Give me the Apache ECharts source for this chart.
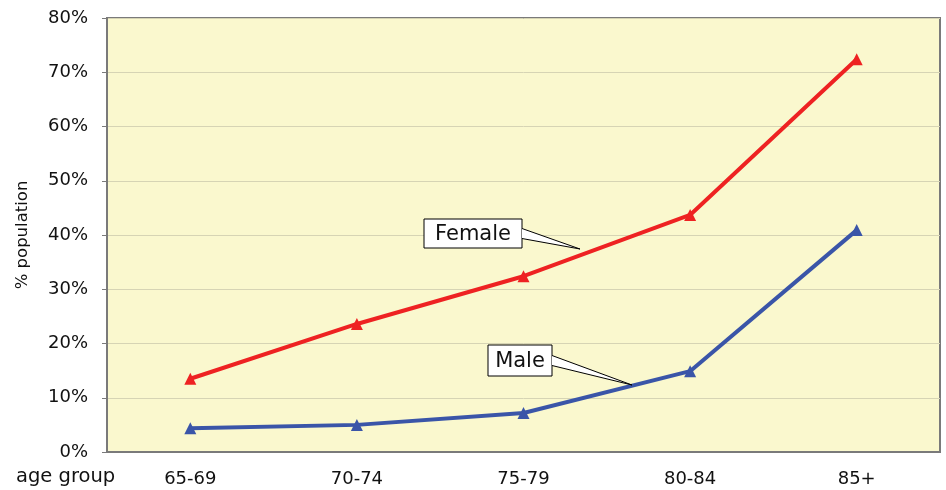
<!DOCTYPE html>
<html>
<head>
<meta charset="utf-8">
<script src="https://cdn.jsdelivr.net/npm/echarts@6/dist/echarts.min.js"></script>
<style>
  html, body { margin: 0; padding: 0; background: #fff; }
  #main { width: 946px; height: 490px; }
</style>
</head>
<body>
<div id="main"></div>
<script>
const ageGroups = ['65-69', '70-74', '75-79', '80-84', '85+'];
const female = [13.5, 23.6, 32.4, 43.7, 72.4];
const male = [4.4, 5.0, 7.2, 14.9, 40.9];
const yTicks = [0, 10, 20, 30, 40, 50, 60, 70, 80];

const myChart = echarts.init(document.querySelector('#main'));

const font = 'DejaVu Sans, sans-serif';

// callout: box + wedge pointing at the line
function callout(text, x, y, w, h, tip) {
	const wedge = [[x + w, y + h / 2 - 5], tip, [x + w, y + h / 2 + 5]];
	return [
		{ type: 'rect', z: 100, shape: { x: x, y: y, width: w, height: h },
			style: { fill: '#fff', stroke: '#000', lineWidth: 1 } },
		{ type: 'polygon', z: 101, shape: { points: wedge },
			style: { fill: '#fff', stroke: null } },
		{ type: 'polyline', z: 102, shape: { points: wedge },
			style: { stroke: '#000', lineWidth: 1, fill: null } },
		{ type: 'text', z: 103, x: x + w / 2, y: y + h / 2 + 1,
			style: { text: text, fontSize: 21, fontFamily: font, fill: '#111', align: 'center', verticalAlign: 'middle' } }
	];
}

const option = {
	animation: false,
	backgroundColor: '#fff',
	grid: {
		left: 107,
		right: 6,
		top: 18,
		bottom: 38,
		show: true,
		backgroundColor: '#faf8ce',
		borderColor: '#7a7a7a',
		borderWidth: 2
	},
	xAxis: {
		type: 'category',
		data: ageGroups,
		boundaryGap: true,
		axisLine: { lineStyle: { color: '#7a7a7a', width: 2 } },
		axisTick: { length: 5, lineStyle: { color: '#7a7a7a' } },
		axisLabel: { color: '#111', fontSize: 18, fontFamily: font, margin: 18 }
	},
	yAxis: {
		type: 'value',
		min: yTicks[0],
		max: yTicks[yTicks.length - 1],
		interval: 10,
		name: '% population',
		nameLocation: 'middle',
		nameGap: 76,
		nameTextStyle: { color: '#111', fontSize: 16.5, fontFamily: font },
		axisLine: { show: true, lineStyle: { color: '#7a7a7a', width: 2 } },
		axisTick: { show: true, length: 5, lineStyle: { color: '#7a7a7a' } },
		axisLabel: { color: '#111', fontSize: 18, fontFamily: font, margin: 19, formatter: '{value}%' },
		splitLine: { lineStyle: { color: '#d6d4b4', width: 1 } }
	},
	series: [
		{
			name: 'Female',
			type: 'line',
			data: female,
			symbol: 'triangle',
			symbolSize: 12,
			lineStyle: { color: '#ee2222', width: 4 },
			itemStyle: { color: '#ee2222' }
		},
		{
			name: 'Male',
			type: 'line',
			data: male,
			symbol: 'triangle',
			symbolSize: 12,
			lineStyle: { color: '#3a55a8', width: 4 },
			itemStyle: { color: '#3a55a8' }
		}
	],
	graphic: [
		{
			type: 'text', left: 16, top: 467,
			style: { text: 'age group', fontSize: 19.5, fontFamily: font, fill: '#111' }
		}
	].concat(
		callout('Female', 424, 219, 98, 29, [580, 249]),
		callout('Male', 488, 345, 64, 31, [632, 385])
	)
};

myChart.setOption(option);
</script>
</body>
</html>
